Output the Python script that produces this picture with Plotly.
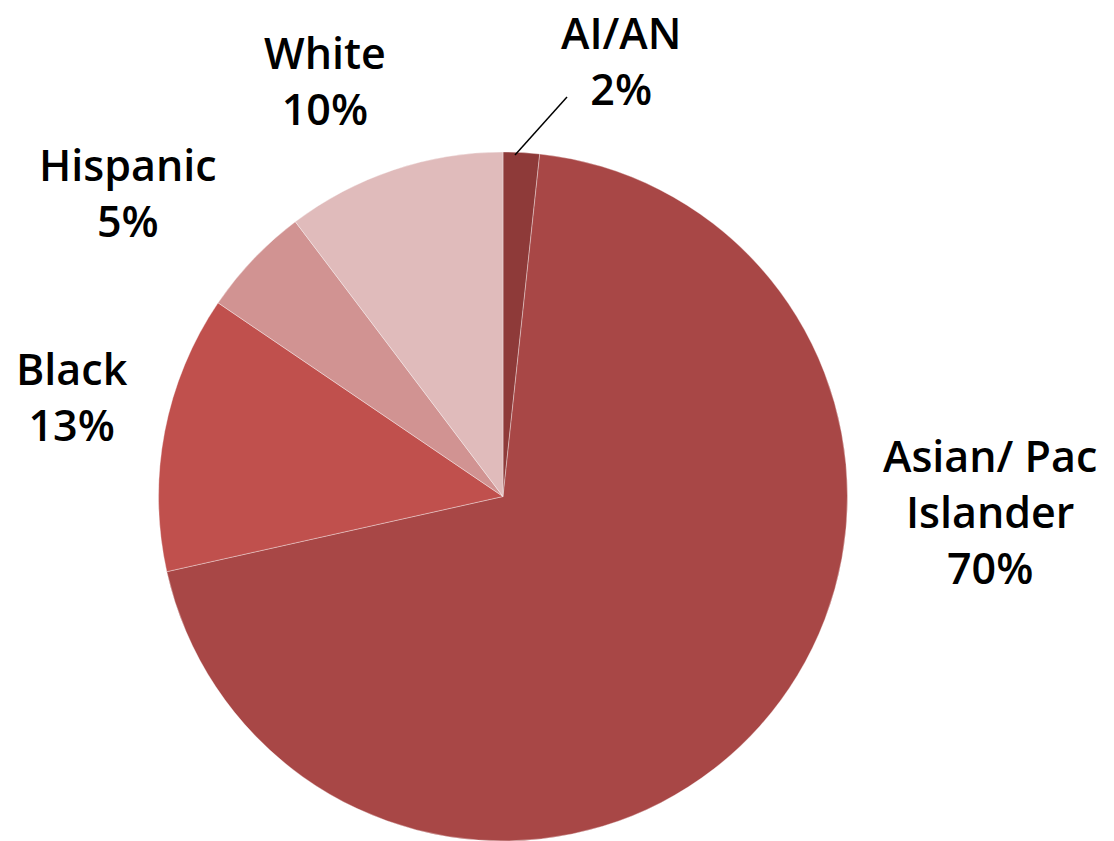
import plotly.graph_objects as go

# Data
categories = ["AI/AN", "Asian/ Pac<br>Islander", "Black", "Hispanic", "White"]
values = [1.7, 69.8, 13.0, 5.2, 10.3]
pct_labels = ["2%", "70%", "13%", "5%", "10%"]
colors = ["#8E3A39", "#A84746", "#C0504D", "#D19392", "#E0BBBB"]

W, H = 1114, 841
# label anchor centres (pixels) — layout only
label_pos = [(621, 60), (990, 512), (72, 396), (128, 193), (325, 80)]

fig = go.Figure(go.Pie(
    labels=categories,
    values=values,
    marker=dict(colors=colors, line=dict(width=0.6, color="rgba(255,255,255,0.6)")),
    sort=False,
    direction="clockwise",
    rotation=0,
    textinfo="none",
    hoverinfo="label+percent",
    showlegend=False,
    domain=dict(x=[157 / W, 849 / W], y=[0, 1 - 152 / H]),
))

for cat, pct, (px, py) in zip(categories, pct_labels, label_pos):
    fig.add_annotation(
        x=px / W, y=1 - py / H, xref="paper", yref="paper",
        text=f"{cat}<br>{pct}", showarrow=False,
        xanchor="center", yanchor="middle",
        font=dict(family="Open Sans", size=43, color="#000000", weight=600),
        align="center",
    )

# leader line for the small slice
fig.add_shape(type="line", xref="paper", yref="paper",
              x0=515 / W, y0=1 - 155 / H, x1=567 / W, y1=1 - 97 / H,
              line=dict(color="black", width=1.5))

fig.update_layout(
    width=W, height=H,
    margin=dict(l=0, r=0, t=0, b=0),
    paper_bgcolor="white",
    plot_bgcolor="white",
)

fig.write_html("out.html")
